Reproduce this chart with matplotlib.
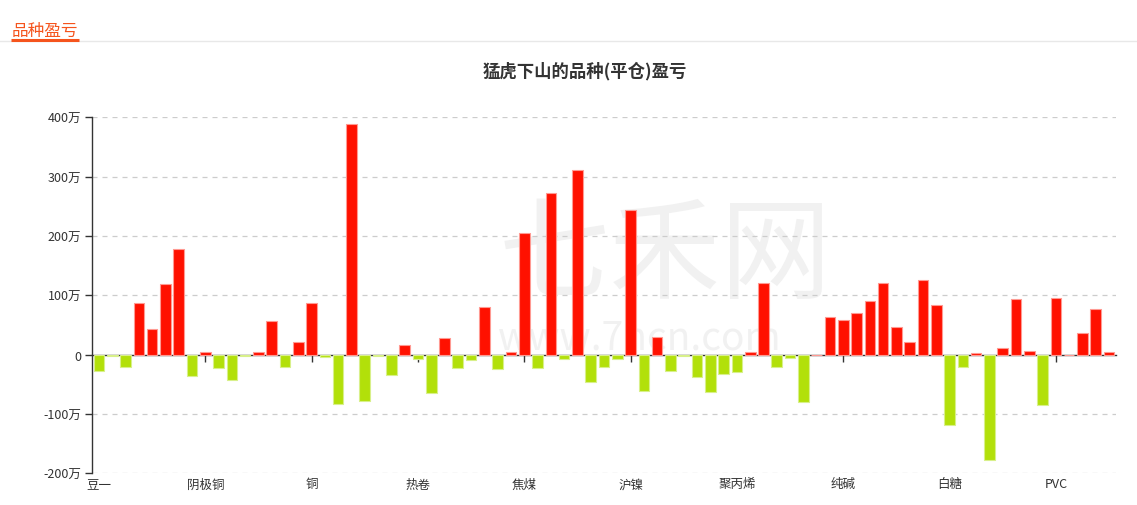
import matplotlib
matplotlib.use("Agg")
import matplotlib.pyplot as plt
from matplotlib.lines import Line2D

plt.rcParams['font.family'] = ['Noto Sans CJK SC', 'DejaVu Sans']

# ---- data (万) ----
values = [
    -27.7, -1.5, -20, 87, 43.5, 119, 178.5, -36, 5, -22.6,
    -42, -2.5, 5, 56, -21, 22, 87, -4, -84, 388.7,
    -78.5, -3, -34, 17, -8, -64, 28, -22, -8.5, 81,
    -25, 4, 204.5, -22.6, 272, -8, 312, -46, -20, -7,
    243.5, -61.6, 30.5, -27.7, -2, -37, -63, -32, -29, 4,
    121, -20, -6, -80, 0, 63, 58, 70, 91, 121,
    47, 21, 126, 83.6, -118, -21, 2, -177, 11, 94,
    6, -85, 95, 0, 36, 77, 5,
]
label_positions = [0, 8, 16, 24, 32, 40, 48, 56, 64, 72]
label_names = ["豆一", "阴极铜", "铜", "热卷", "焦煤", "沪镍", "聚丙烯", "纯碱", "白糖", "PVC"]
y_ticks = [-200, -100, 0, 100, 200, 300, 400]
y_tick_labels = ["-200万", "-100万", "0", "100万", "200万", "300万", "400万"]
title = "猛虎下山的品种(平仓)盈亏"
header = "品种盈亏"

RED = '#ff1100'
GREEN = '#b2e00a'
RED_EDGE = '#ff9a92'
GREEN_EDGE = '#d8f08a'

W, H = 1137, 506
fig = plt.figure(figsize=(W / 100, H / 100), dpi=100)

# axes placement (pixels -> figure fraction)
left, right = 92.3 / W, 1115.7 / W
top, bottom = 1 - 118.3 / H, 1 - 474.3 / H
ax = fig.add_axes([left, bottom, right - left, top - bottom])

x = list(range(len(values)))
colors = [RED if v >= 0 else GREEN for v in values]
edges = [RED_EDGE if v >= 0 else GREEN_EDGE for v in values]
ax.bar(x, values, width=0.8, color=colors, edgecolor=edges, linewidth=0.8, zorder=3)

ax.set_xlim(-0.5, len(values) - 0.5)
ax.set_ylim(-200, 400)

# grid
ax.set_yticks(y_ticks)
ax.set_yticklabels(y_tick_labels, fontsize=9, color='#333333')
for yv in y_ticks:
    if yv != 0:
        ax.axhline(yv, color='#cccccc', linewidth=0.9, linestyle=(0, (4, 4)), zorder=1)
ax.tick_params(axis='y', length=5, width=1, color='#333333', pad=3, direction='out')

# spines
for s in ['top', 'right', 'bottom']:
    ax.spines[s].set_visible(False)
ax.spines['left'].set_color('#333333')
ax.spines['left'].set_linewidth(1)

# category labels at the bottom
ax.set_xticks(label_positions)
ax.set_xticklabels(label_names, fontsize=9, color='#333333')
ax.tick_params(axis='x', length=0, pad=3)

# zero axis line with ticks
sec = ax.secondary_xaxis(200 / 600)
sec.set_xticks(label_positions)
sec.set_xticklabels([])
sec.tick_params(axis='x', length=5, width=1, color='#333333', direction='out')
sec.spines['bottom'].set_color('#333333')
sec.spines['bottom'].set_linewidth(1)
sec.spines['bottom'].set_zorder(4)

# watermark (behind bars)
ax.text(665 / W, 1 - 258 / H, "七禾网", fontsize=80, color='#f1f1f1',
        ha='center', va='center', zorder=0, transform=fig.transFigure)
ax.text(640 / W, 1 - 338 / H, "www.7hcn.com", fontsize=28, color='#f1f1f1',
        ha='center', va='center', zorder=0, transform=fig.transFigure)

# title
fig.text(585 / W, 1 - 71 / H, title, fontsize=12.5, fontweight='bold',
         color='#333333', ha='center', va='center')

# header
fig.text(12 / W, 1 - 31 / H, header, fontsize=12, color='#f5541d',
         ha='left', va='center')
fig.add_artist(Line2D([0, 1], [1 - 41.5 / H, 1 - 41.5 / H], transform=fig.transFigure,
                      color='#e8e8e8', linewidth=1))
fig.add_artist(Line2D([11 / W, 79 / W], [1 - 40.5 / H, 1 - 40.5 / H], transform=fig.transFigure,
                      color='#f5541d', linewidth=2.2, solid_capstyle='butt'))

fig.savefig("out.png", dpi=100, facecolor='white')
